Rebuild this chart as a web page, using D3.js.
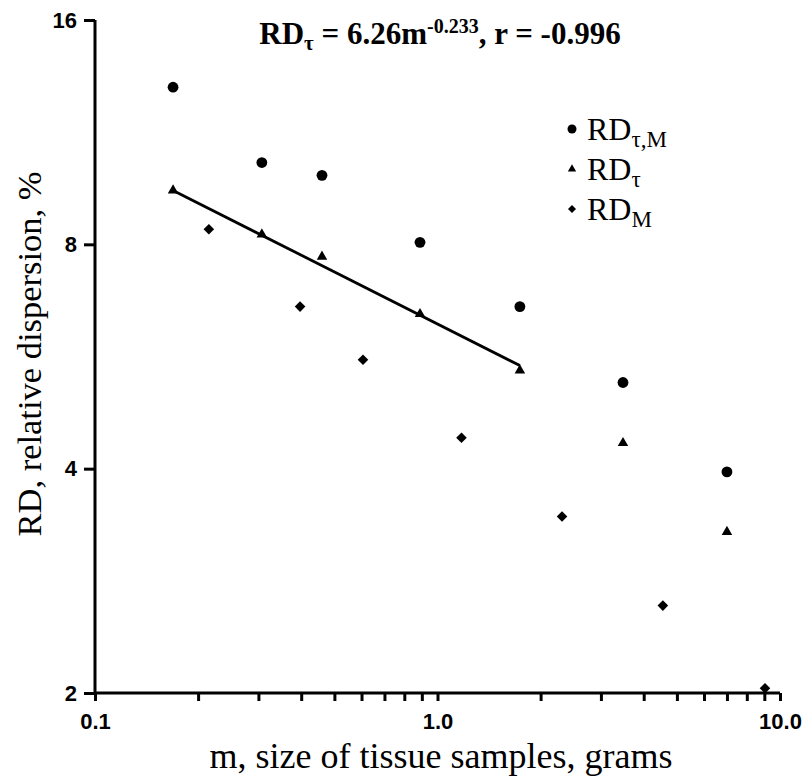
<!DOCTYPE html>
<html>
<head>
<meta charset="utf-8">
<script src="https://cdn.jsdelivr.net/npm/d3@7"></script>
<style>
    body { margin: 0; background: #fff; }
    svg { display: block; }
    .axis path, .axis line { stroke: #000; stroke-width: 3; }
    .axis text { font-family: "Liberation Sans", Arial, sans-serif; font-weight: bold; font-size: 22px; fill: #000; }
</style>
</head>
<body>
<div id="chart"></div>
<script>

// sample mass, grams (circles and triangles share the same masses)
let massTM = [0.169, 0.307, 0.46, 0.889, 1.74, 3.48, 7.0];
let rdTauM = [13.0, 10.3, 9.9, 8.05, 6.6, 5.22, 3.96];
let rdTau = [9.45, 8.25, 7.7, 6.45, 5.42, 4.33, 3.29];

// RD_M measured at other masses
let massM = [0.215, 0.397, 0.606, 1.175, 2.31, 4.55, 9.04];
let rdM = [8.38, 6.6, 5.6, 4.4, 3.45, 2.62, 2.03];

// regression line end points (RD_tau = 6.26 m^-0.233)
let fitMass = [0.169, 1.74];
let fitRD = [9.45, 5.5];

let yTicks = [2, 4, 8, 16];
let xLabels = { 0.1: '0.1', 1: '1.0', 10: '10.0' };

let width = 809,
    height = 777;

let svg = d3.select('#chart').append('svg')
    .attr('width', width)
    .attr('height', height);

let x = d3.scaleLog().domain([0.1, 10]).range([95, 780]);
let y = d3.scaleLog().base(2).domain([2, 16]).range([693, 20]);

// minor + major ticks on the mass axis
let xTickVals = [];
[0.1, 1].forEach(function(dec) {
    for (let k = 1; k <= 9; k++) xTickVals.push(+(dec * k).toFixed(2));
});
xTickVals.push(10);

let xAxis = svg.append('g')
    .attr('class', 'axis')
    .attr('transform', 'translate(0,' + y(2) + ')')
    .call(d3.axisBottom(x)
        .tickValues(xTickVals)
        .tickSize(8)
        .tickSizeOuter(0)
        .tickPadding(12)
        .tickFormat(function(d) { return xLabels[d] || ''; }));
xAxis.select('.domain').attr('d', 'M' + x(0.1) + ',0H' + x(10));
xAxis.selectAll('text').attr('dy', '0.71em');

let yAxis = svg.append('g')
    .attr('class', 'axis')
    .attr('transform', 'translate(' + x(0.1) + ',0)')
    .call(d3.axisLeft(y)
        .tickValues(yTicks)
        .tickSize(11)
        .tickSizeOuter(0)
        .tickPadding(7)
        .tickFormat(d3.format('d')));
yAxis.select('.domain').attr('d', 'M0,' + y(16) + 'V' + y(2));

// axis titles
svg.append('text')
    .attr('x', 441)
    .attr('y', 768)
    .attr('text-anchor', 'middle')
    .style('font-family', '"Liberation Serif", "Times New Roman", serif')
    .style('font-size', '36px')
    .text('m, size of tissue samples, grams');

svg.append('text')
    .attr('transform', 'translate(41,354) rotate(-90)')
    .attr('text-anchor', 'middle')
    .style('font-family', '"Liberation Serif", "Times New Roman", serif')
    .style('font-size', '34.5px')
    .text('RD, relative dispersion, %');

// equation title
let title = svg.append('text')
    .attr('x', 440)
    .attr('y', 44)
    .attr('text-anchor', 'middle')
    .style('font-family', '"Liberation Serif", "Times New Roman", serif')
    .style('font-weight', 'bold')
    .style('font-size', '31px');
title.append('tspan').text('RD');
title.append('tspan').attr('dy', 6).style('font-size', '21px').text('τ');
title.append('tspan').attr('dy', -6).text(' = 6.26m');
title.append('tspan').attr('dy', -11).style('font-size', '20px').text('-0.233');
title.append('tspan').attr('dy', 11).text(', r = -0.996');

// regression line
let line = d3.line()
    .x(function(d) { return x(d[0]); })
    .y(function(d) { return y(d[1]); });

svg.append('path')
    .datum(d3.zip(fitMass, fitRD))
    .attr('d', line)
    .attr('fill', 'none')
    .attr('stroke', '#000')
    .attr('stroke-width', 2.8);

let triSym = d3.symbol().type(d3.symbolTriangle).size(48);
let diaSym = d3.symbol().type(d3.symbolSquare).size(56);

svg.append('g').selectAll('circle')
    .data(d3.zip(massTM, rdTauM))
    .enter().append('circle')
    .attr('cx', function(d) { return x(d[0]); })
    .attr('cy', function(d) { return y(d[1]); })
    .attr('r', 5.4)
    .attr('fill', '#000');

svg.append('g').selectAll('path')
    .data(d3.zip(massTM, rdTau))
    .enter().append('path')
    .attr('d', triSym)
    .attr('transform', function(d) { return 'translate(' + x(d[0]) + ',' + y(d[1]) + ')'; })
    .attr('fill', '#000');

svg.append('g').selectAll('path')
    .data(d3.zip(massM, rdM))
    .enter().append('path')
    .attr('d', diaSym)
    .attr('transform', function(d) { return 'translate(' + x(d[0]) + ',' + y(d[1]) + ') rotate(45)'; })
    .attr('fill', '#000');

// legend
let legendItems = [
    { sub: 'τ,M', type: 'circle' },
    { sub: 'τ', type: 'triangle' },
    { sub: 'M', type: 'diamond' }
];

let legend = svg.append('g').selectAll('g')
    .data(legendItems)
    .enter().append('g')
    .attr('transform', function(d, i) { return 'translate(572,' + (129 + i * 40) + ')'; });

legend.each(function(d) {
    let g = d3.select(this);
    if (d.type == 'circle') {
        g.append('circle').attr('r', 4.5).attr('fill', '#000');
    } else if (d.type == 'triangle') {
        g.append('path').attr('d', d3.symbol().type(d3.symbolTriangle).size(30)).attr('fill', '#000');
    } else {
        g.append('path').attr('d', d3.symbol().type(d3.symbolSquare).size(32))
            .attr('transform', 'rotate(45)').attr('fill', '#000');
    }
    let t = g.append('text')
        .attr('x', 15)
        .attr('y', 11)
        .style('font-family', '"Liberation Serif", "Times New Roman", serif')
        .style('font-size', '32px');
    t.append('tspan').text('RD');
    t.append('tspan').attr('dy', 7).style('font-size', '23px').text(d.sub);
});

</script>
</body>
</html>
